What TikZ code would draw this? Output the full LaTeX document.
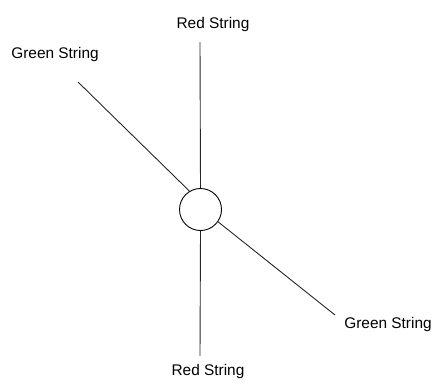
\documentclass[tikz,border=0pt]{standalone}
\usepackage{fontspec}
\setmainfont{Liberation Sans}
\tikzset{
    stringlabel/.style={inner sep=0pt, font=\fontsize{15.4}{18}\selectfont},
    stringline/.style={line width=0.9pt, black!85},
}
\begin{document}
\begin{tikzpicture}[x=1pt, y=-1pt]
    \useasboundingbox (0,0) rectangle (434,384);

    \node [draw, circle, minimum size=42pt, inner sep=0pt, line width=0.9pt]
        (ring) at (200.5,209.5) {}
        ;

    \node [stringlabel] (redtop) at (213,25) {Red String};
    \node [stringlabel] (redbot) at (208,372) {Red String};
    \node [stringlabel] (greenleft) at (55,55) {Green String};
    \node [stringlabel] (greenright) at (388,325) {Green String};

    \coordinate (redtopend) at (200,42);
    \coordinate (redbotend) at (200,356);
    \coordinate (greenleftend) at (78,82);
    \coordinate (greenrightend) at (335,315);

    \draw [stringline]
        (redtopend) -- (ring.north)
        (ring.south) -- (redbotend)
        (greenleftend) -- (ring.121)
        (ring.-35) -- (greenrightend)
        ;
\end{tikzpicture}
\end{document}
